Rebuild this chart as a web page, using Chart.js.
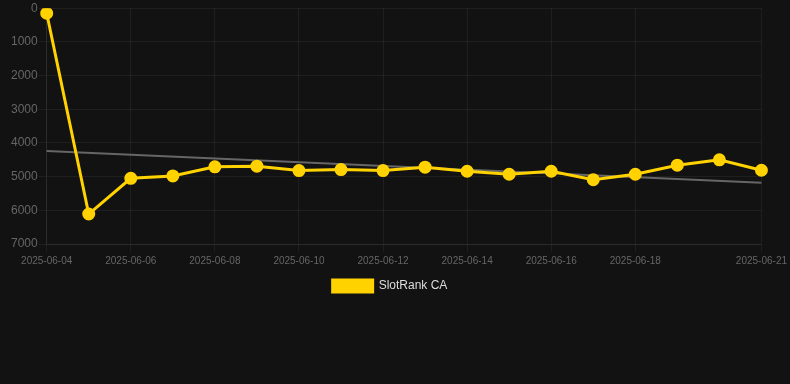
<!DOCTYPE html>
<html>
<head>
<meta charset="utf-8">
<script src="https://cdn.jsdelivr.net/npm/chart.js@4/dist/chart.umd.min.js"></script>
<style>
    html, body {
        margin: 0;
        padding: 0;
        background: #121212;
        width: 790px;
        height: 384px;
        overflow: hidden;
    }
    #wrap {
        width: 790px;
        height: 302px;
    }
</style>
</head>
<body>
<div id="wrap"><canvas id="chart"></canvas></div>
<script>
// dates on the x axis
const dates = [
    "2025-06-04", "2025-06-05", "2025-06-06", "2025-06-07", "2025-06-08", "2025-06-09",
    "2025-06-10", "2025-06-11", "2025-06-12", "2025-06-13", "2025-06-14", "2025-06-15",
    "2025-06-16", "2025-06-17", "2025-06-18", "2025-06-19", "2025-06-20", "2025-06-21"
];

// rank values
const slotRankCA = [
    150, 6110, 5050, 4980, 4710, 4690, 4820, 4790, 4820,
    4720, 4840, 4930, 4840, 5090, 4930, 4660, 4500, 4810
];

// trend line, only the two ends
const trendValues = [
    4240, null, null, null, null, null, null, null, null,
    null, null, null, null, null, null, null, null, 5180
];

// which date labels get a tick
const shownTicks = [
    "2025-06-04", "2025-06-06", "2025-06-08", "2025-06-10", "2025-06-12",
    "2025-06-14", "2025-06-16", "2025-06-18", "2025-06-21"
];

const yTicks = [0, 1000, 2000, 3000, 4000, 5000, 6000, 7000];

const gridColor = "rgba(255, 255, 255, 0.06)";
const tickColor = "#666666";

new Chart(document.getElementById("chart"), {
    type: "line",
    data: {
        labels: dates,
        datasets: [
            {
                label: "SlotRank CA",
                data: slotRankCA,
                borderColor: "#ffd200",
                backgroundColor: "#ffd200",
                borderWidth: 3,
                pointRadius: 5,
                pointHoverRadius: 5,
                tension: 0,
                order: 1
            },
            {
                label: "trend",
                data: trendValues,
                borderColor: "#666666",
                borderWidth: 2,
                pointRadius: 0,
                spanGaps: true,
                order: 2
            }
        ]
    },
    options: {
        responsive: true,
        maintainAspectRatio: false,
        animation: false,
        layout: { padding: { top: 0, right: 20, left: 10 } },
        plugins: {
            legend: {
                position: "bottom",
                labels: {
                    color: "#dddddd",
                    font: { family: "Liberation Sans, Arial", size: 12 },
                    boxWidth: 40,
                    boxHeight: 12,
                    filter: (item) => item.text !== "trend"
                }
            },
            tooltip: { enabled: false }
        },
        scales: {
            x: {
                grid: { color: gridColor },
                border: { color: gridColor },
                afterBuildTicks: (scale) => {
                    scale.ticks = scale.ticks.filter((t) => shownTicks.includes(dates[t.value]));
                },
                ticks: {
                    color: tickColor,
                    autoSkip: false,
                    maxRotation: 0,
                    font: { family: "Liberation Sans, Arial", size: 10 }
                }
            },
            y: {
                reverse: true,
                min: 0,
                max: 7000,
                afterBuildTicks: (scale) => {
                    scale.ticks = yTicks.map((v) => ({ value: v }));
                },
                grid: { color: gridColor },
                border: { color: gridColor },
                ticks: {
                    color: tickColor,
                    padding: 1,
                    font: { family: "Liberation Sans, Arial", size: 12 },
                    callback: (value) => String(value)
                }
            }
        }
    }
});
</script>
</body>
</html>
